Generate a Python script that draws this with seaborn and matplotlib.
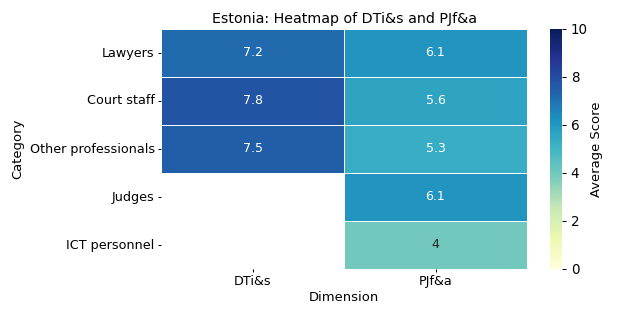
import matplotlib
matplotlib.use("Agg")
import matplotlib.pyplot as plt
import seaborn as sns
import numpy as np
import pandas as pd

categories = ["Lawyers", "Court staff", "Other professionals", "Judges", "ICT personnel"]
dimensions = ["DTi&s", "PJf&a"]
dti_scores = [7.2, 7.8, 7.5, np.nan, np.nan]
pjf_scores = [6.1, 5.6, 5.3, 6.1, 4.0]

df = pd.DataFrame({"DTi&s": dti_scores, "PJf&a": pjf_scores}, index=categories)

W, H = 630, 315
fig = plt.figure(figsize=(7, 3.5), dpi=90)
ax = fig.add_axes([161 / W, 1 - 269 / H, (527 - 161) / W, (269 - 29) / H])
cax = fig.add_axes([550 / W, 1 - 269 / H, 12 / W, (269 - 29) / H])
sns.heatmap(df[dimensions], annot=True, fmt="g", cmap="YlGnBu", vmin=0, vmax=10,
            linewidths=0.5, linecolor="white", ax=ax, cbar_ax=cax,
            annot_kws={"size": 10})
ax.set_title("Estonia: Heatmap of DTi&s and PJf&a", fontsize=11.4, pad=5)
ax.set_xlabel("Dimension", fontsize=10.5, labelpad=2)
ax.set_ylabel("Category", fontsize=10.5, labelpad=4)
ax.tick_params(axis="both", labelsize=10.2, length=2.5, pad=2.5)
ax.tick_params(axis="y", rotation=0)
cax.tick_params(labelsize=10.8)
cax.set_ylabel("Average Score", fontsize=10.5, labelpad=2)
plt.savefig("out.png")
plt.close()
